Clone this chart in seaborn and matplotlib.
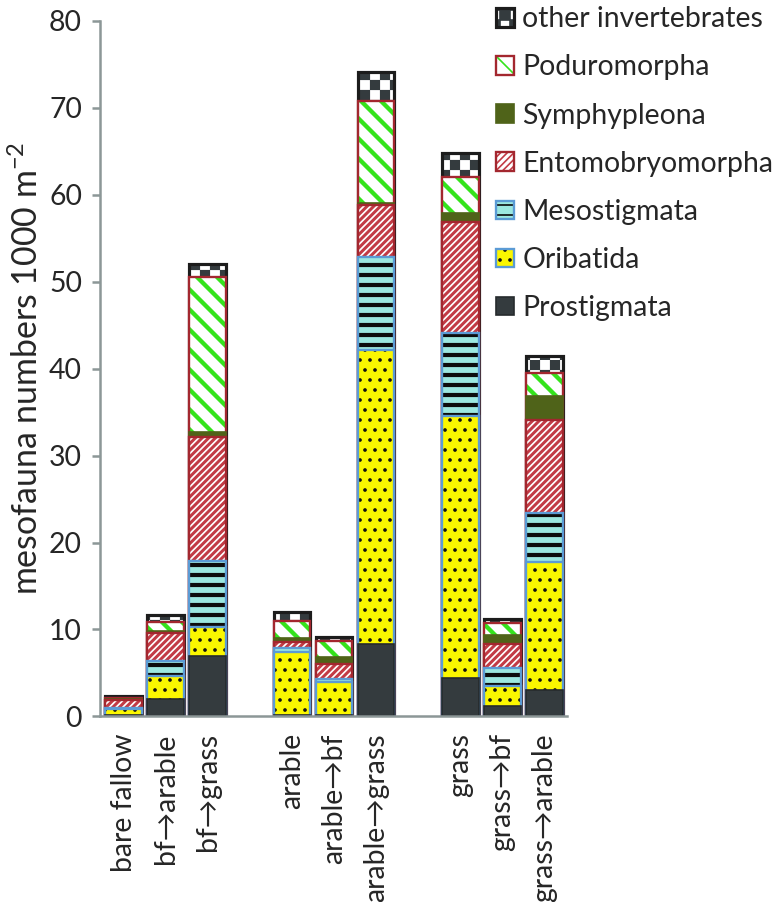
import numpy as np
import pandas as pd
import matplotlib
matplotlib.use("Agg")
import matplotlib.pyplot as plt
import matplotlib.hatch as mhatch
from matplotlib.path import Path
from matplotlib.patches import Patch
import seaborn as sns

# --- Data (1000 individuals per m2) ---
sites = ['bare fallow', 'bf→arable', 'bf→grass',
         'arable', 'arable→bf', 'arable→grass',
         'grass', 'grass→bf', 'grass→arable']
prostigmata = [0.15, 2.0, 6.95, 0.2, 0.2, 8.3, 4.4, 1.15, 3.05]
oribatida = [0.75, 2.65, 3.3, 7.2, 3.8, 33.8, 30.1, 2.3, 14.75]
mesostigmata = [0.1, 1.75, 7.6, 0.5, 0.35, 10.7, 9.6, 2.1, 5.6]
entomobryomorpha = [0.85, 3.2, 14.3, 0.7, 1.7, 6.0, 12.8, 2.8, 10.7]
symphypleona = [0.1, 0.2, 0.5, 0.4, 0.75, 0.2, 0.95, 1.0, 2.7]
poduromorpha = [0.15, 1.1, 17.9, 1.95, 1.85, 11.8, 4.15, 1.35, 2.65]
other_invertebrates = [0.25, 0.77, 1.5, 1.1, 0.45, 3.3, 2.8, 0.45, 1.95]

layer_names = ['Prostigmata', 'Oribatida', 'Mesostigmata', 'Entomobryomorpha',
               'Symphypleona', 'Poduromorpha', 'other invertebrates']
layers = [prostigmata, oribatida, mesostigmata, entomobryomorpha,
          symphypleona, poduromorpha, other_invertebrates]

# empty slots separate the three land-use groups
order = ['bare fallow', 'bf→arable', 'bf→grass', ' ',
         'arable', 'arable→bf', 'arable→grass', '  ',
         'grass', 'grass→bf', 'grass→arable']

# --- Styles ---
DPI = 120
FS = 17
AXIS_GREY = '#8c9797'
BAR_W = 0.867
BLUE_EDGE = '#5b9bd5'
RED_EDGE = '#a3272f'

styles = {
    'Prostigmata': dict(face='#343b3e', hatch=None, hcol=None, hlw=0, edge='#262b2d', elw=1.0),
    'Oribatida': dict(face='#fbf700', hatch='..', hcol='#111111', hlw=1.0, edge=BLUE_EDGE, elw=1.4),
    'Mesostigmata': dict(face='#9ce8e0', hatch='--', hcol='#0d0d0d', hlw=2.5, edge=BLUE_EDGE, elw=1.4),
    'Entomobryomorpha': dict(face='white', hatch='//////', hcol='#c23b45', hlw=1.8, edge=RED_EDGE, elw=1.4),
    'Symphypleona': dict(face='#4f6319', hatch=None, hcol=None, hlw=0, edge='#4f6319', elw=1.0),
    'Poduromorpha': dict(face='white', hatch='\\\\', hcol='#35e31c', hlw=2.6, edge=RED_EDGE, elw=1.4),
    'other invertebrates': dict(face='white', hatch='*', hcol='#343b3e', hlw=0.1, edge='#1c1c1c', elw=1.9),
}


# --- Checkerboard hatch (takes the place of the '*' pattern) ---
class CheckerHatch(mhatch.HatchPatternBase):
    def __init__(self, hatch, density):
        self.num_cells = hatch.count('*') * density * 2
        self.num_vertices = (self.num_cells ** 2 // 2) * 5

    def set_vertices_and_codes(self, vertices, codes):
        step = 1.0 / self.num_cells
        k = 0
        for i in range(self.num_cells):
            for j in range(self.num_cells):
                if (i + j) % 2:
                    continue
                x0, y0 = i * step, j * step
                vertices[k:k + 5] = [(x0, y0), (x0 + step, y0), (x0 + step, y0 + step),
                                     (x0, y0 + step), (x0, y0)]
                codes[k:k + 5] = [Path.MOVETO, Path.LINETO, Path.LINETO,
                                  Path.LINETO, Path.CLOSEPOLY]
                k += 5


mhatch._hatch_types = [CheckerHatch if t is mhatch.Stars else t for t in mhatch._hatch_types]

# --- Plot ---
sns.set_theme(style='white')
plt.rcParams['font.family'] = ['Lato', 'DejaVu Sans']
plt.rcParams['mathtext.fontset'] = 'custom'
plt.rcParams['mathtext.rm'] = 'Lato'
plt.rcParams['mathtext.it'] = 'Lato:italic'

df = pd.DataFrame({'site': sites})
cum = np.zeros(len(sites))
for name, vals in zip(layer_names, layers):
    cum = cum + np.array(vals)
    df[name] = cum

fig = plt.figure(figsize=(779 / DPI, 902 / DPI), dpi=DPI)
ax = fig.add_axes([0.1284, 0.2057, 0.5995, 0.7714])


def hatch_width(p, lw):
    if hasattr(p, 'set_hatch_linewidth'):
        p.set_hatch_linewidth(lw)


def bar_pass(col, **props):
    n0 = len(ax.patches)
    sns.barplot(data=df, x='site', y=col, order=order, width=BAR_W, color='white',
                saturation=1, errorbar=None, ax=ax)
    hlw = props.pop('hlw', None)
    for p in ax.patches[n0:]:
        p.set(**props)
        if hlw is not None:
            hatch_width(p, hlw)


# stacked bars: draw cumulative totals from the top layer downwards
for name in reversed(layer_names):
    st = styles[name]
    bar_pass(name, facecolor=st['face'], edgecolor='none', linewidth=0)
    if st['hatch']:
        bar_pass(name, facecolor='none', edgecolor=st['hcol'], linewidth=0,
                 hatch=st['hatch'], hlw=st['hlw'])
    bar_pass(name, facecolor='none', edgecolor=st['edge'], linewidth=st['elw'])

ax.set_xlim(-0.558, 10.535)
ax.set_ylim(0, 80)
ax.set_yticks(range(0, 81, 10))
ax.set_xlabel('')
ax.set_ylabel('mesofauna numbers 1000 m$^{-2}$', fontsize=20.3, labelpad=3)
ax.tick_params(axis='y', labelsize=FS, length=4.8, width=1.5, color=AXIS_GREY,
               pad=6, left=True, direction='out')
ax.tick_params(axis='x', labelsize=FS, length=0, pad=10, rotation=90)
sns.despine(ax=ax)
for side in ['left', 'bottom']:
    ax.spines[side].set_color(AXIS_GREY)
    ax.spines[side].set_linewidth(1.5)

# --- Legend ---
handles = []
labels = []
for name in reversed(layer_names):
    st = styles[name]
    parts = [Patch(facecolor=st['face'], edgecolor='none', linewidth=0)]
    if st['hatch']:
        hp = Patch(facecolor='none', edgecolor=st['hcol'], linewidth=0, hatch=st['hatch'])
        hatch_width(hp, st['hlw'])
        parts.append(hp)
    parts.append(Patch(facecolor='none', edgecolor=st['edge'], linewidth=st['elw']))
    handles.append(tuple(parts))
    labels.append(name)

fig.legend(handles, labels, loc='upper left', bbox_to_anchor=(0.637, 0.993),
           frameon=False, fontsize=FS, handlelength=0.62, handleheight=0.62,
           handletextpad=0.3, labelspacing=0.78, borderpad=0, borderaxespad=0)

fig.savefig('out.png', dpi=DPI)
